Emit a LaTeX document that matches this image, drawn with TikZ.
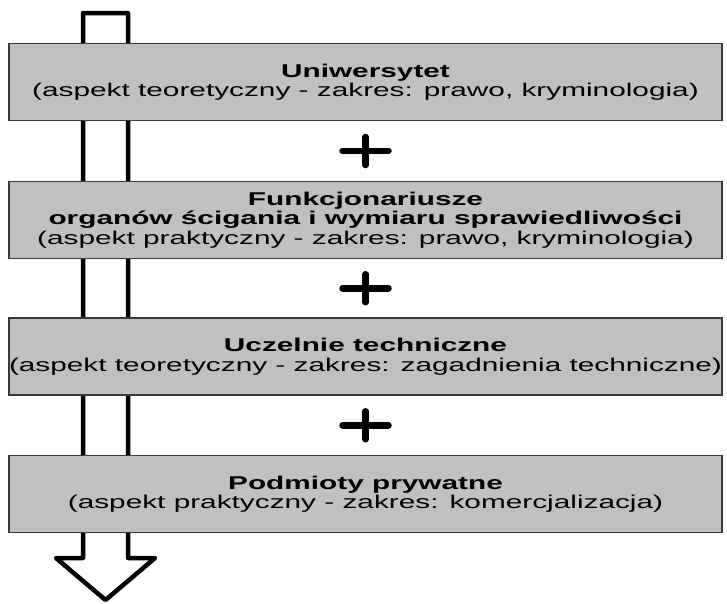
\documentclass[tikz,border=0pt]{standalone}
\usepackage{fontspec}
\setmainfont[FakeStretch=1.61]{Liberation Sans}
\usetikzlibrary{calc}
\definecolor{boxgray}{HTML}{C0C0C0}
\definecolor{boxedge}{HTML}{3A3A3A}
\begin{document}
\begin{tikzpicture}[x=1pt,y=-1pt,
    pole/.style={draw=boxedge, fill=boxgray, line width=1.2pt, minimum width=713pt, minimum height=77pt, inner sep=0pt, align=center, font=\fontsize{18.5}{19.5}\selectfont},
    plussign/.style={line width=6.5pt, line cap=round}]
            \useasboundingbox (0,0) rectangle (727,603);
            \draw[line width=4.5pt, line join=round](83,558)--(83,13)--(128,13)--(128,558)--(155,558)--(105.5,600)--(56,558)--cycle;
            \node[pole] (uni) at (365.5,82) {\textbf{Uniwersytet}\\(aspekt teoretyczny - zakres: prawo, kryminologia)};
            \node[pole] (fun) at (365.5,220) {\textbf{Funkcjonariusze}\\\textbf{organów ścigania i wymiaru sprawiedliwości}\\(aspekt praktyczny - zakres: prawo, kryminologia)};
            \node[pole] (ucz) at (365.5,356.5) {\textbf{Uczelnie techniczne}\\(aspekt teoretyczny - zakres: zagadnienia techniczne)};
            \node[pole] (pod) at (365.5,494) {\textbf{Podmioty prywatne}\\(aspekt praktyczny - zakres: komercjalizacja)};
            \foreach \a/\b in {uni/fun,fun/ucz,ucz/pod}{
                \coordinate (\a-\b) at ($(\a.south)!.5!(\b.north)$);
                \draw[plussign]($(\a-\b)+(-23,0)$)--+(46,0);
                \draw[plussign]($(\a-\b)+(0,-14)$)--+(0,28);
            }
        \end{tikzpicture}
\end{document}
